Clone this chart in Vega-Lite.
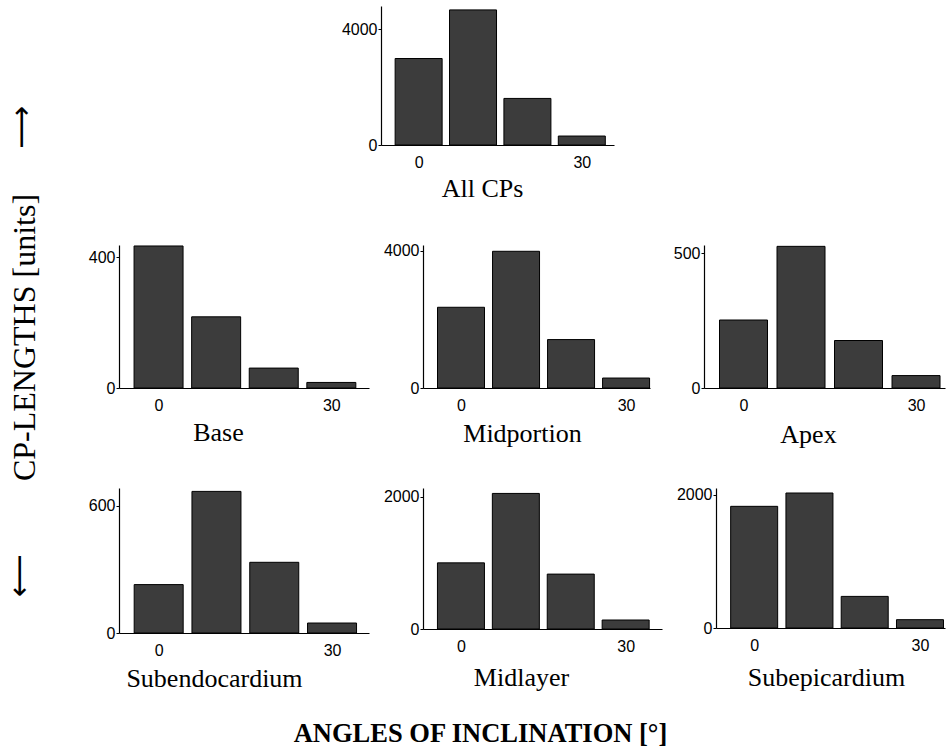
{
  "$schema": "https://vega.github.io/schema/vega-lite/v6.json",
  "background": "white",
  "padding": {"left": 3, "top": 6, "right": 0, "bottom": 0},
  "title": {"text": "ANGLES OF INCLINATION [°]", "orient": "bottom", "anchor": "middle", "font": "Liberation Serif", "fontSize": 26.5, "fontWeight": "bold", "color": "black", "offset": 30},
  "config": {
    "view": {"stroke": null},
    "axis": {"grid": false, "domainColor": "black", "domainWidth": 1.2, "labelFont": "Liberation Sans", "labelFontSize": 16, "labelColor": "black", "tickColor": "black", "titleFont": "Liberation Serif", "titleFontWeight": "normal", "titleFontSize": 26, "titleColor": "black", "format": "d"},
    "axisX": {"ticks": false, "labelPadding": 9, "labelFlush": false, "titleBaseline": "alphabetic", "titleAlign": "center"},
    "axisY": {"tickSize": 3, "labelPadding": 1, "titleAngle": -90, "titleAlign": "center", "titleBaseline": "middle"}
  },
  "data": {"values": [
    {"panel": "All CPs", "angle": 0, "length": 2990},
    {"panel": "All CPs", "angle": 10, "length": 4670},
    {"panel": "All CPs", "angle": 20, "length": 1610},
    {"panel": "All CPs", "angle": 30, "length": 310},
    {"panel": "Base", "angle": 0, "length": 435},
    {"panel": "Base", "angle": 10, "length": 218},
    {"panel": "Base", "angle": 20, "length": 61},
    {"panel": "Base", "angle": 30, "length": 17},
    {"panel": "Midportion", "angle": 0, "length": 2350},
    {"panel": "Midportion", "angle": 10, "length": 3980},
    {"panel": "Midportion", "angle": 20, "length": 1410},
    {"panel": "Midportion", "angle": 30, "length": 290},
    {"panel": "Apex", "angle": 0, "length": 252},
    {"panel": "Apex", "angle": 10, "length": 525},
    {"panel": "Apex", "angle": 20, "length": 176},
    {"panel": "Apex", "angle": 30, "length": 46},
    {"panel": "Subendocardium", "angle": 0, "length": 228},
    {"panel": "Subendocardium", "angle": 10, "length": 667},
    {"panel": "Subendocardium", "angle": 20, "length": 333},
    {"panel": "Subendocardium", "angle": 30, "length": 47},
    {"panel": "Midlayer", "angle": 0, "length": 1000},
    {"panel": "Midlayer", "angle": 10, "length": 2050},
    {"panel": "Midlayer", "angle": 20, "length": 830},
    {"panel": "Midlayer", "angle": 30, "length": 136},
    {"panel": "Subepicardium", "angle": 0, "length": 1825},
    {"panel": "Subepicardium", "angle": 10, "length": 2025},
    {"panel": "Subepicardium", "angle": 20, "length": 474},
    {"panel": "Subepicardium", "angle": 30, "length": 125}
  ]},
  "bounds": "flush",
  "align": "none",
  "columns": 3,
  "spacing": {"row": 100, "column": 54},
  "concat": [
    {"width": 200, "height": 139, "data": {"values": []}, "mark": "point"},
    {
      "width": 191, "height": 139,
      "transform": [{"filter": "datum.panel === 'All CPs'"}],
      "mark": {"type": "bar", "width": 47, "fill": "#3c3c3c", "stroke": "black", "strokeWidth": 1},
      "encoding": {
        "x": {"field": "angle", "type": "quantitative", "scale": {"domain": [-6, 35], "range": [-42, 191], "nice": false, "zero": false}, "axis": {"values": [0, 30], "title": "All CPs", "titleX": 59, "titleY": 51}},
        "y": {"field": "length", "type": "quantitative", "scale": {"domain": [0, 4805], "nice": false}, "axis": {"offset": 42, "values": [0, 4000], "title": "⟶", "titleFont": "DejaVu Sans", "titleFontSize": 30, "titleX": -360, "titleY": 121}}
      }
    },
    {"width": 10, "height": 139, "data": {"values": []}, "mark": "point"},
    {
      "width": 250, "height": 143,
      "transform": [{"filter": "datum.panel === 'Base'"}],
      "mark": {"type": "bar", "width": 49, "fill": "#3c3c3c", "stroke": "black", "strokeWidth": 1},
      "encoding": {
        "x": {"field": "angle", "type": "quantitative", "scale": {"domain": [-6, 35.67], "nice": false, "zero": false}, "axis": {"values": [0, 30], "title": "Base", "titleX": 99, "titleY": 52}},
        "y": {"field": "length", "type": "quantitative", "scale": {"domain": [0, 438], "nice": false}, "axis": {"values": [0, 400], "title": "CP-LENGTHS [units]", "titleFontSize": 32, "titleX": -95, "titleY": 92}}
      }
    },
    {
      "width": 227, "height": 143,
      "transform": [{"filter": "datum.panel === 'Midportion'"}],
      "mark": {"type": "bar", "width": 47, "fill": "#3c3c3c", "stroke": "black", "strokeWidth": 1},
      "encoding": {
        "x": {"field": "angle", "type": "quantitative", "scale": {"domain": [-6, 33.44], "nice": false, "zero": false}, "axis": {"values": [0, 30], "title": "Midportion", "titleX": 99, "titleY": 53}},
        "y": {"field": "length", "type": "quantitative", "scale": {"domain": [0, 4163], "nice": false}, "axis": {"values": [0, 4000], "title": null}}
      }
    },
    {
      "width": 229, "height": 143,
      "transform": [{"filter": "datum.panel === 'Apex'"}],
      "mark": {"type": "bar", "width": 48, "fill": "#3c3c3c", "stroke": "black", "strokeWidth": 1, "clip": true},
      "encoding": {
        "x": {"field": "angle", "type": "quantitative", "scale": {"domain": [-6, 34.17], "range": [-12, 229], "nice": false, "zero": false}, "axis": {"values": [0, 30], "title": "Apex", "titleX": 92, "titleY": 54}},
        "y": {"field": "length", "type": "quantitative", "scale": {"domain": [0, 530], "nice": false}, "axis": {"offset": 12, "values": [0, 500], "title": null}}
      }
    },
    {
      "width": 250, "height": 145,
      "transform": [{"filter": "datum.panel === 'Subendocardium'"}],
      "mark": {"type": "bar", "width": 49, "fill": "#3c3c3c", "stroke": "black", "strokeWidth": 1},
      "encoding": {
        "x": {"field": "angle", "type": "quantitative", "scale": {"domain": [-6, 35.53], "nice": false, "zero": false}, "axis": {"values": [0, 30], "title": "Subendocardium", "titleX": 95, "titleY": 53}},
        "y": {"field": "length", "type": "quantitative", "scale": {"domain": [0, 683], "nice": false}, "axis": {"values": [0, 600], "title": "⟵", "titleFont": "DejaVu Sans", "titleFontSize": 30, "titleX": -100, "titleY": 87}}
      }
    },
    {
      "width": 239, "height": 141,
      "transform": [{"filter": "datum.panel === 'Midlayer'"}],
      "mark": {"type": "bar", "width": 47, "fill": "#3c3c3c", "stroke": "black", "strokeWidth": 1},
      "encoding": {
        "x": {"field": "angle", "type": "quantitative", "scale": {"domain": [-6, 35.71], "nice": false, "zero": false}, "axis": {"values": [0, 30], "title": "Midlayer", "titleX": 98, "titleY": 56}},
        "y": {"field": "length", "type": "quantitative", "scale": {"domain": [0, 2132], "nice": false}, "axis": {"values": [0, 2000], "title": null}}
      }
    },
    {
      "width": 229, "height": 140,
      "transform": [{"filter": "datum.panel === 'Subepicardium'"}],
      "mark": {"type": "bar", "width": 47, "fill": "#3c3c3c", "stroke": "black", "strokeWidth": 1, "clip": true},
      "encoding": {
        "x": {"field": "angle", "type": "quantitative", "scale": {"domain": [-6, 33.62], "nice": false, "zero": false}, "axis": {"values": [0, 30], "title": "Subepicardium", "titleX": 110, "titleY": 57}},
        "y": {"field": "length", "type": "quantitative", "scale": {"domain": [0, 2100], "nice": false}, "axis": {"values": [0, 2000], "title": null}}
      }
    }
  ]
}
